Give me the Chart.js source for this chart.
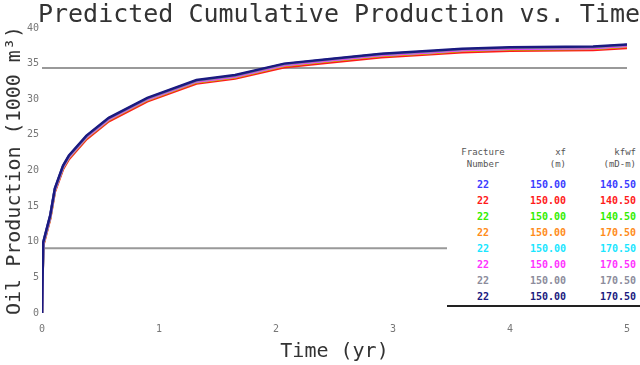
<!DOCTYPE html>
<html>
<head>
<meta charset="utf-8">
<script src="https://cdn.jsdelivr.net/npm/chart.js@4"></script>
<style>
  body { margin: 0; background: #fff; }
  #wrap { position: relative; width: 640px; height: 365px; }
  #tbl {
    position: absolute; left: 447px; top: 146px; width: 193px;
    background: #fff; border-bottom: 2px solid #222;
    font-family: "DejaVu Sans Mono", monospace;
  }
  #tbl .hd { height: 12px; line-height: 12px; font-size: 9px; color: #555; display: flex; }
  #tbl .row { height: 16px; line-height: 16px; font-size: 10px; font-weight: bold; display: flex; }
  #tbl .c1 { width: 72px; text-align: center; }
  #tbl .c2 { width: 47px; text-align: right; }
  #tbl .c3 { width: 70px; text-align: right; }
</style>
</head>
<body>
<div id="wrap">
  <canvas id="myChart" width="640" height="365"></canvas>
  <div id="tbl"></div>
</div>
<script>
// time axis (yr)
var times = [0, 0.01, 0.04, 0.07, 0.11, 0.18, 0.23, 0.38, 0.57, 0.9, 1.32, 1.65, 2.07, 2.48, 2.9, 3.32, 3.59, 4.0, 4.71, 5.0];

// cumulative oil (1000 m3), one array per case
var case1 = [0, 9.8, 11.7, 13.6, 17.4, 20.6, 22.0, 24.8, 27.3, 30.1, 32.6, 33.3, 34.9, 35.6, 36.3, 36.7, 37.0, 37.2, 37.3, 37.6];
var case2 = [0, 9.4, 11.3, 13.2, 17.0, 20.2, 21.6, 24.4, 26.9, 29.7, 32.2, 32.9, 34.5, 35.2, 35.9, 36.3, 36.6, 36.8, 36.9, 37.2];
var case3 = [0, 9.6, 11.5, 13.4, 17.2, 20.4, 21.8, 24.6, 27.1, 29.9, 32.4, 33.1, 34.7, 35.4, 36.1, 36.5, 36.8, 37.0, 37.1, 37.4];
var case4 = [0, 9.6, 11.5, 13.4, 17.2, 20.4, 21.8, 24.6, 27.1, 29.9, 32.4, 33.1, 34.7, 35.4, 36.1, 36.5, 36.8, 37.0, 37.1, 37.4];
var case5 = [0, 9.7, 11.6, 13.5, 17.3, 20.5, 21.9, 24.7, 27.2, 30.0, 32.5, 33.2, 34.8, 35.5, 36.2, 36.6, 36.9, 37.1, 37.2, 37.5];
var case6 = [0, 9.7, 11.6, 13.5, 17.3, 20.5, 21.9, 24.7, 27.2, 30.0, 32.5, 33.2, 34.8, 35.5, 36.2, 36.6, 36.9, 37.1, 37.2, 37.5];
var case7 = [0, 9.8, 11.7, 13.6, 17.4, 20.6, 22.0, 24.8, 27.3, 30.1, 32.6, 33.3, 34.9, 35.6, 36.3, 36.7, 37.0, 37.2, 37.3, 37.6];
var case8 = [0, 9.9, 11.8, 13.7, 17.5, 20.7, 22.1, 24.9, 27.4, 30.2, 32.7, 33.4, 35.0, 35.7, 36.4, 36.8, 37.1, 37.3, 37.4, 37.7];

// legend table values
var stages = [22, 22, 22, 22, 22, 22, 22, 22];
var xf = [150, 150, 150, 150, 150, 150, 150, 150];
var kfwf = [140.5, 140.5, 140.5, 170.5, 170.5, 170.5, 170.5, 170.5];

// horizontal reference lines
var refLines = [34.4, 9.1];

var xTicks = [0, 1, 2, 3, 4, 5];
var yTicks = [0, 5, 10, 15, 20, 25, 30, 35, 40];

var colors = ['#3c3cff', '#ff1a1a', '#33ee00', '#ff8c1a', '#1ae6ff', '#ff33ff', '#8c8c9c', '#1a1a80'];
var cases = [case1, case2, case3, case4, case5, case6, case7, case8];

var datasets = [];
cases.forEach(function(vals, i) {
    datasets.push({
        label: 'Case ' + (i + 1),
        data: vals.map(function(v, j) { return {x: times[j], y: v}; }),
        borderColor: colors[i],
        backgroundColor: colors[i],
        borderWidth: 2.5,
        pointRadius: 0,
        order: 7 - i
    });
});
refLines.forEach(function(v) {
    datasets.push({
        label: 'ref',
        data: [{x: xTicks[0], y: v}, {x: xTicks[xTicks.length - 1], y: v}],
        borderColor: '#999999',
        borderWidth: 2,
        pointRadius: 0,
        order: 20
    });
});

var mono = '"DejaVu Sans Mono", monospace';

var ctx = document.getElementById("myChart");
var myChart = new Chart(ctx, {
    type: 'line',
    data: { datasets: datasets },
    options: {
        responsive: false,
        animation: false,
        layout: { padding: 0 },
        plugins: {
            legend: { display: false },
            tooltip: { enabled: false },
            title: {
                display: true,
                text: 'Predicted Cumulative Production vs. Time',
                align: 'end',
                color: '#333',
                font: { family: mono, size: 25, weight: 'normal', lineHeight: 1 },
                padding: { top: 3, bottom: 0 }
            }
        },
        scales: {
            x: {
                type: 'linear',
                min: xTicks[0],
                max: xTicks[xTicks.length - 1],
                afterBuildTicks: function(axis) { axis.ticks = xTicks.map(function(v) { return {value: v}; }); },
                afterFit: function(axis) { axis.height = 52; },
                grid: { display: false, drawTicks: false },
                border: { display: false },
                ticks: { color: '#777', padding: 10, font: { family: mono, size: 10 } },
                title: {
                    display: true,
                    text: 'Time (yr)',
                    color: '#333',
                    font: { family: mono, size: 20 },
                    padding: { top: 0, bottom: 1 }
                }
            },
            y: {
                min: yTicks[0],
                max: yTicks[yTicks.length - 1],
                afterBuildTicks: function(axis) { axis.ticks = yTicks.map(function(v) { return {value: v}; }); },
                afterFit: function(axis) { axis.width = 42; },
                grid: { display: false, drawTicks: false },
                border: { display: false },
                ticks: { color: '#777', padding: 3, font: { family: mono, size: 10 } },
                title: {
                    display: true,
                    text: 'Oil Production (1000 m³)',
                    color: '#333',
                    font: { family: mono, size: 20 },
                    padding: { top: 3, bottom: 0 }
                }
            }
        }
    }
});

// legend table
var html = '<div class="hd"><div class="c1">Fracture</div><div class="c2">xf</div><div class="c3">kfwf</div></div>' +
           '<div class="hd"><div class="c1">Number</div><div class="c2">(m)</div><div class="c3">(mD-m)</div></div>' +
           '<div style="height:7px"></div>';
for (var i = 0; i < stages.length; i++) {
    html += '<div class="row" style="color:' + colors[i] + '">' +
            '<div class="c1">' + stages[i] + '</div>' +
            '<div class="c2">' + xf[i].toFixed(2) + '</div>' +
            '<div class="c3">' + kfwf[i].toFixed(2) + '</div></div>';
}
document.getElementById('tbl').innerHTML = html;
</script>
</body>
</html>
